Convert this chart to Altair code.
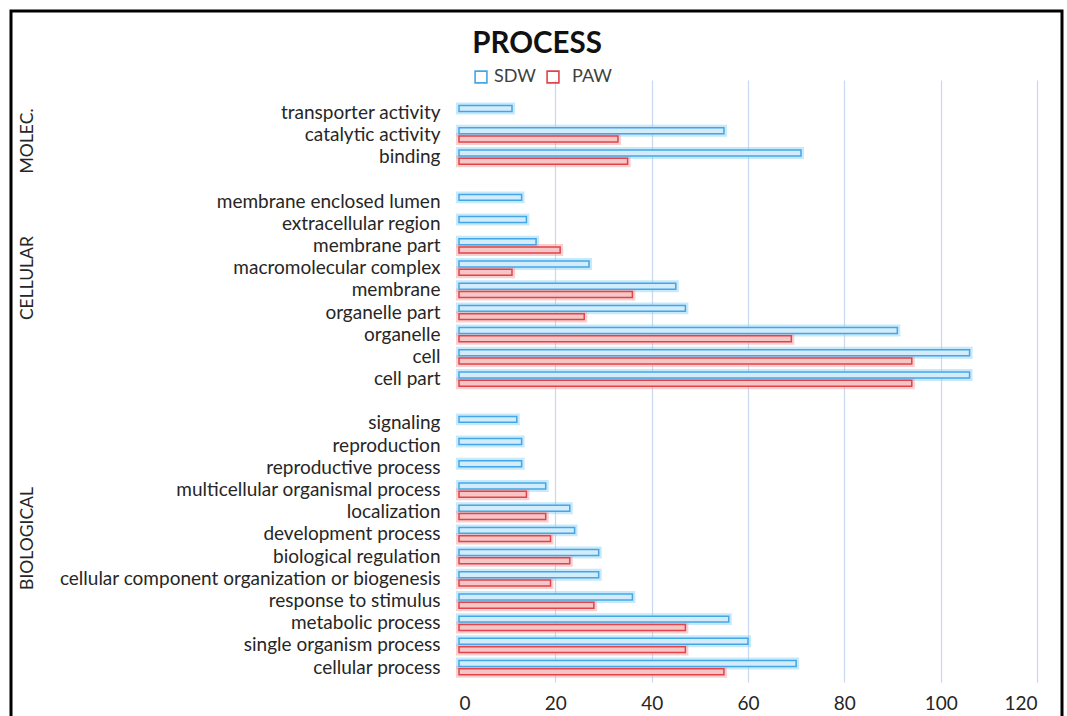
import altair as alt
import pandas as pd

# GO term categories, top to bottom; blank entries separate the three groups
categories = [
    "transporter activity", "catalytic activity", "binding", " ",
    "membrane enclosed lumen", "extracellular region", "membrane part",
    "macromolecular complex", "membrane", "organelle part", "organelle",
    "cell", "cell part", "  ",
    "signaling", "reproduction", "reproductive process",
    "multicellular organismal process", "localization", "development process",
    "biological regulation", "cellular component organization or biogenesis",
    "response to stimulus", "metabolic process", "single organism process",
    "cellular process",
]
sdw = [11, 55, 71, None, 13, 14, 16, 27, 45, 47, 91, 106, 106, None,
       12, 13, 13, 18, 23, 24, 29, 29, 36, 56, 60, 70]
paw = [None, 33, 35, None, None, None, 21, 11, 36, 26, 69, 94, 94, None,
       None, None, None, 14, 18, 19, 23, 19, 28, 47, 47, 55]

series = ["SDW", "PAW"]
stroke_colors = ["#45a6e6", "#e0444a"]
fill_colors = ["#d3ecfb", "#f6c6c6"]
halo_colors = ["#8fd3fa", "#f5a0a2"]
legend_symbol_x = [22, 94]
legend_label_gap = [13, 19]
group_names = ["MOLEC.", "CELLULAR", "BIOLOGICAL"]
group_rows = ["catalytic activity", "macromolecular complex", "development process"]
group_shift = [-6, -10, -4]
x_ticks = [0, 20, 40, 60, 80, 100, 120]

rows = []
for cat, a, b in zip(categories, sdw, paw):
    if a is not None:
        rows.append({"term": cat, "series": "SDW", "count": a})
    if b is not None:
        rows.append({"term": cat, "series": "PAW", "count": b})
df = pd.DataFrame(rows)

FONT = "Lato"
TEXT = "#262626"

y_scale = alt.Scale(domain=categories, paddingInner=0.36, paddingOuter=0.74, align=0.78)
off_scale = alt.Scale(domain=series, paddingInner=0.28, paddingOuter=0)

x_enc = alt.X(
    "count:Q",
    scale=alt.Scale(domain=[0, 120], nice=False),
    axis=alt.Axis(
        values=x_ticks, title=None, domain=False, ticks=False,
        labelFontSize=19, labelPadding=12, labelColor=TEXT, labelFont=FONT,
        gridColor="#c9d7ef", gridWidth=1.2,
        gridOpacity={"condition": {"test": "datum.value === 0", "value": 0}, "value": 1},
    ),
)
y_enc = alt.Y(
    "term:N", sort=categories, scale=y_scale,
    axis=alt.Axis(
        title=None, domain=False, ticks=False, grid=False,
        labelFontSize=19, labelPadding=19, labelColor=TEXT, labelFont=FONT,
        labelLimit=500,
    ),
)
off_enc = alt.YOffset("series:N", sort=series, scale=off_scale)

base = alt.Chart(df)

# soft halo drawn under each bar, one layer per series
halos = [
    base.transform_filter(alt.datum.series == s).mark_bar(
        stroke=c, strokeWidth=6, strokeOpacity=0.5, fillOpacity=0
    ).encode(x=x_enc, y=y_enc, yOffset=off_enc)
    for s, c in zip(series, halo_colors)
]

bars = [
    base.transform_filter(alt.datum.series == s).mark_bar(
        stroke=sc, fill=fc, strokeWidth=1.5
    ).encode(x=x_enc, y=y_enc, yOffset=off_enc)
    for s, sc, fc in zip(series, stroke_colors, fill_colors)
]

# legend: hollow squares with series names beside them
legend_src = alt.Chart(pd.DataFrame({"series": series}))
legend_items = []
for s, c, lx, gap in zip(series, stroke_colors, legend_symbol_x, legend_label_gap):
    item = legend_src.transform_filter(alt.datum.series == s)
    legend_items.append(
        item.mark_point(shape="square", filled=False, size=140, strokeWidth=1.6,
                        color=c, opacity=1)
        .encode(x=alt.value(lx), y=alt.value(-3))
    )
    legend_items.append(
        item.mark_text(align="left", baseline="middle", fontSize=18, font=FONT,
                       color="#404040")
        .encode(x=alt.value(lx + gap), y=alt.value(-3), text="series:N")
    )

groups = alt.Chart(pd.DataFrame({"name": group_names, "term": group_rows}))
group_labels = [
    groups.transform_filter(alt.datum.name == n).mark_text(
        angle=270, align="center", baseline="middle", fontSize=17.5, font=FONT,
        color=TEXT, dx=s,
    ).encode(x=alt.value(-431), y=alt.Y("term:N", sort=categories, scale=y_scale), text="name:N")
    for n, s in zip(group_names, group_shift)
]

title = alt.Chart(pd.DataFrame({"t": ["PROCESS"]})).mark_text(
    fontSize=29.5, font=FONT, fontWeight="bold", color="#111111",
    align="center", baseline="middle",
).encode(x=alt.value(78), y=alt.value(-36), text="t:N")

frame = alt.Chart(pd.DataFrame({"k": [0]})).mark_rect(
    fill="transparent", stroke="black", strokeWidth=3
).encode(
    x=alt.value(-448), x2=alt.value(603), y=alt.value(-69), y2=alt.value(680),
)

chart = alt.layer(*halos, *bars, *legend_items, *group_labels, title, frame).properties(
    width=578, height=602,
    autosize=alt.AutoSizeParams(type="none"),
    padding={"left": 459, "top": 80, "right": 30, "bottom": 34},
    background="white",
).configure_view(stroke=None)

chart.save("out.html", embed_options={"renderer": "svg", "actions": False})
